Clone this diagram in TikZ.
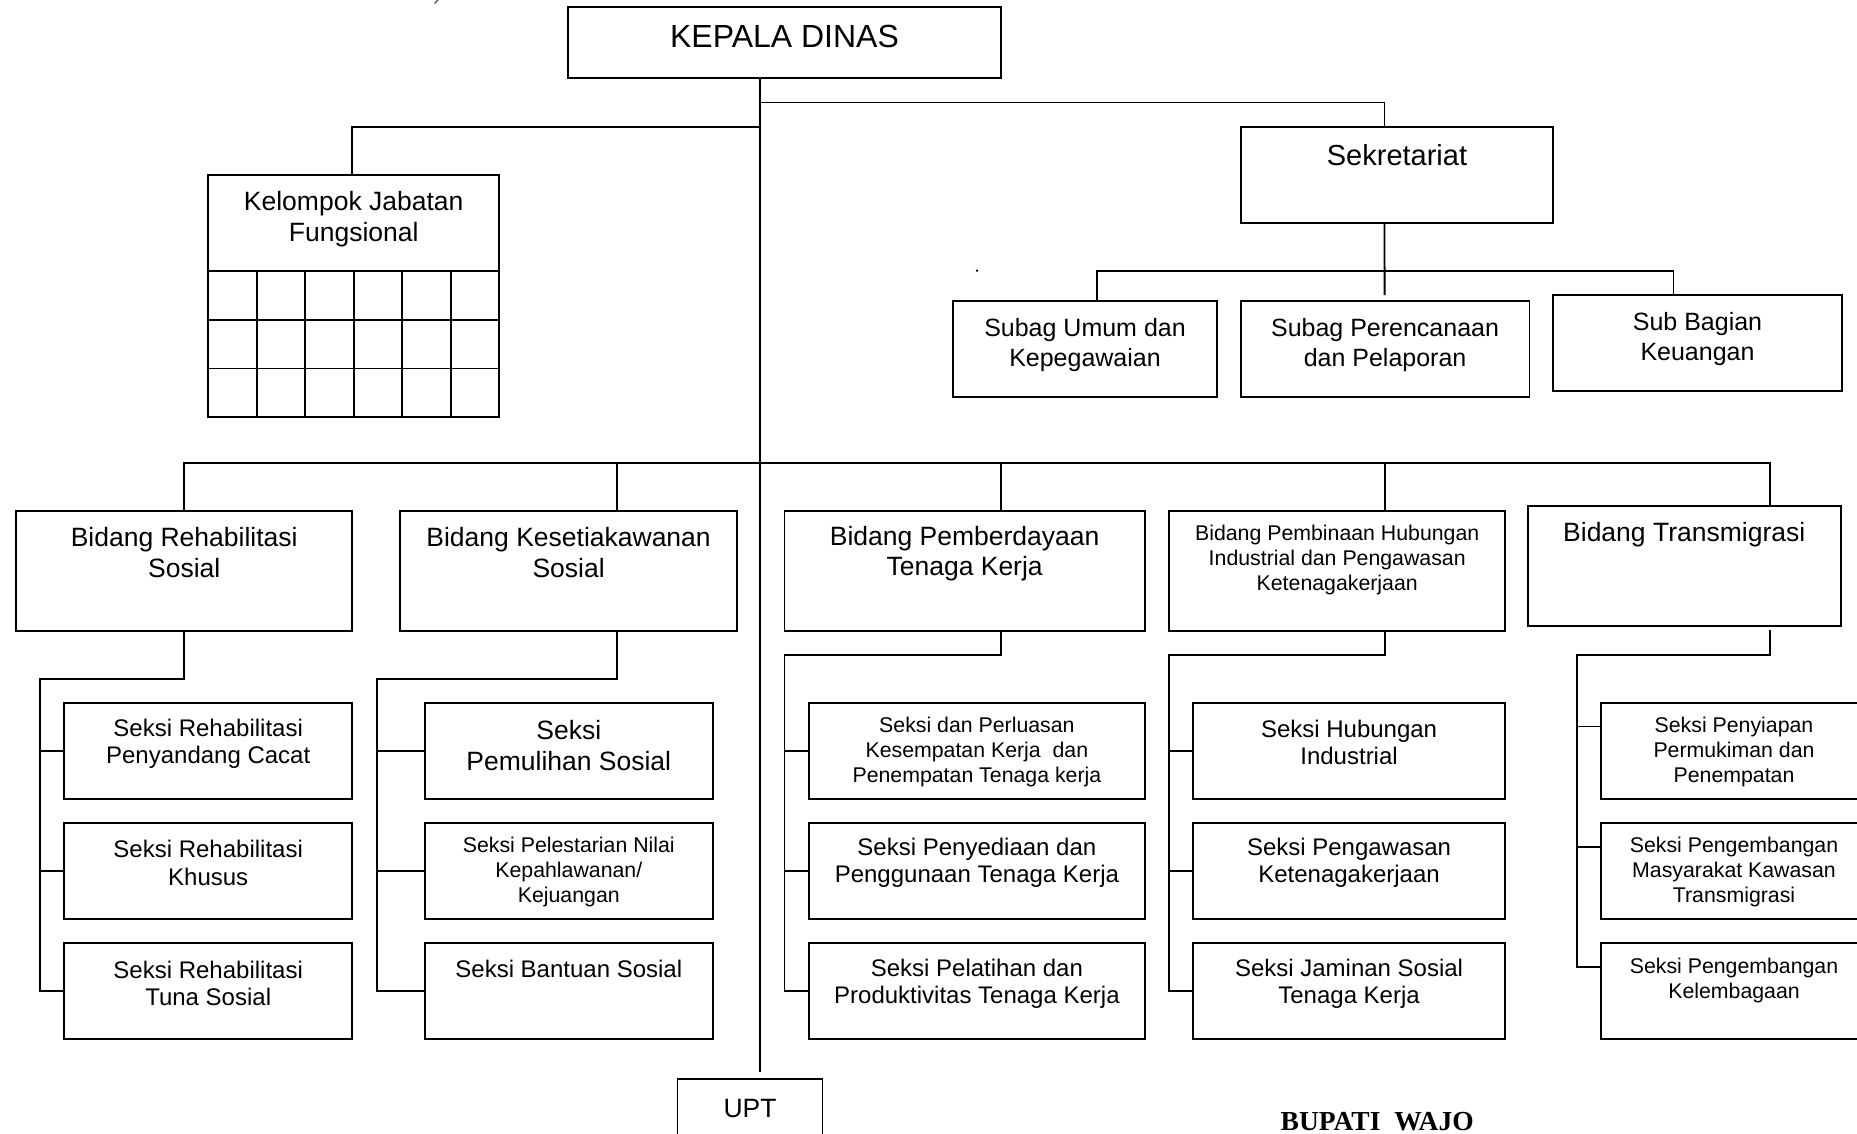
\documentclass[tikz,border=0pt]{standalone}
\usepackage{fontspec}
\setmainfont{Liberation Sans}
\newfontfamily\signfont{Liberation Serif}
\usetikzlibrary{calc}

\tikzset{
  box/.style={draw, line width=1.9pt, rectangle, inner sep=0pt, outer sep=0pt},
  link/.style={line width=1.9pt},
  head/.style={font=\fontsize{32}{38}\selectfont, inner sep=0pt},
  sekstyle/.style={font=\fontsize{29}{34}\selectfont, inner sep=0pt},
  bidang/.style={font=\fontsize{26.5}{30.3}\selectfont, align=center, inner sep=0pt},
  subag/.style={font=\fontsize{25}{30}\selectfont, align=center, inner sep=0pt},
  seksi/.style={font=\fontsize{24}{27.3}\selectfont, align=center, inner sep=0pt},
  kecil/.style={font=\fontsize{21.3}{24.8}\selectfont, align=center, inner sep=0pt},
}

% box from (x1,y1) to (x2,y2) with its caption centred horizontally at height ty
% #1 name, #2 x1, #3 y1, #4 x2, #5 y2, #6 caption style, #7 ty, #8 caption
\newcommand\orgunit[8]{%
  \node[box, minimum width={#4-#2}, minimum height={#5-#3}] (#1) at ({(#2+#4)/2},{(#3+#5)/2}) {};
  \node[#6] (#1-text) at ({(#2+#4)/2},#7) {#8};
}

\begin{document}
\begin{tikzpicture}[x=1pt,y=-1pt]
\useasboundingbox (0,0) rectangle (1857,1134);
\clip (0,0) rectangle (1857,1134);

% ---------- upper level ----------
\orgunit{kepala}{568}{7}{1001}{78}{head}{36}{KEPALA DINAS}
\orgunit{kjf}{208}{175}{499.4}{417}{bidang}{219}{Kelompok Jabatan\\Fungsional}
\orgunit{sek}{1241}{127}{1553}{223}{sekstyle}{155}{Sekretariat}
\orgunit{su}{953}{300.7}{1217}{396.7}{subag}{345}{Subag Umum dan\\Kepegawaian}
\orgunit{sp}{1240.6}{300.7}{1529.5}{396.7}{subag}{345}{Subag Perencanaan\\dan Pelaporan}
\orgunit{sk}{1553}{295}{1842}{390.7}{subag}{339}{Sub Bagian\\Keuangan}

% grid of the functional group
\foreach \yy in {271.3,320,368.5} \draw[link] (208,\yy) -- (499.4,\yy);
\foreach \xx in {256.7,305.4,353.8,402.3,451} \draw[link] (\xx,271.3) -- (\xx,417);

% ---------- bidang ----------
\orgunit{b1}{16}{511.3}{352.4}{630.7}{bidang}{552.5}{Bidang Rehabilitasi\\Sosial}
\orgunit{b2}{400.4}{511.3}{736.8}{630.7}{bidang}{552.5}{Bidang Kesetiakawanan\\Sosial}
\orgunit{b3}{784.5}{511.3}{1144.8}{630.7}{bidang}{553.5}{Bidang Pemberdayaan\\Tenaga Kerja}
\orgunit{b4}{1169.3}{511.3}{1505.1}{630.7}{kecil}{560}{Bidang Pembinaan Hubungan\\Industrial dan Pengawasan\\Ketenagakerjaan}
\orgunit{b5}{1527.7}{506}{1840.7}{626.4}{bidang}{535}{Bidang Transmigrasi}

% ---------- seksi ----------
\orgunit{s11}{64}{702.9}{352.4}{799}{seksi}{743.6}{Seksi Rehabilitasi\\Penyandang Cacat}
\orgunit{s12}{64}{822.7}{352.4}{918.9}{seksi}{863}{Seksi Rehabilitasi\\Khusus}
\orgunit{s13}{64}{943.3}{352.4}{1039.1}{seksi}{983.5}{Seksi Rehabilitasi\\Tuna Sosial}

\orgunit{s21}{424.6}{702.9}{713}{799}{bidang}{745.5}{Seksi\\Pemulihan Sosial}
\orgunit{s22}{424.6}{822.7}{713}{918.9}{kecil}{872}{Seksi Pelestarian Nilai\\Kepahlawanan/\\Kejuangan}
\orgunit{s23}{424.6}{943.3}{713}{1039.1}{seksi}{969}{Seksi Bantuan Sosial}

\orgunit{s31}{809}{702.9}{1144.8}{799}{kecil}{752}{Seksi dan Perluasan\\Kesempatan Kerja~ dan\\Penempatan Tenaga kerja}
\orgunit{s32}{809}{822.7}{1144.8}{918.9}{seksi}{863}{Seksi Penyediaan dan\\Penggunaan Tenaga Kerja}
\orgunit{s33}{809}{943.3}{1144.8}{1039.1}{seksi}{984}{Seksi Pelatihan dan\\Produktivitas Tenaga Kerja}

\orgunit{s41}{1193}{702.9}{1505.1}{799}{seksi}{742.6}{Seksi Hubungan\\Industrial}
\orgunit{s42}{1193}{822.7}{1505.1}{918.9}{seksi}{863}{Seksi Pengawasan\\Ketenagakerjaan}
\orgunit{s43}{1193}{943.3}{1505.1}{1039.1}{seksi}{984}{Seksi Jaminan Sosial\\Tenaga Kerja}

\orgunit{s51}{1601}{702.9}{1867}{799}{kecil}{752}{Seksi Penyiapan\\Permukiman dan\\Penempatan}
\orgunit{s52}{1601}{822.7}{1867}{918.9}{kecil}{872}{Seksi Pengembangan\\Masyarakat Kawasan\\Transmigrasi}
\orgunit{s53}{1601}{943.3}{1867}{1039.1}{kecil}{980.5}{Seksi Pengembangan\\Kelembagaan}

\orgunit{upt}{677.5}{1079}{822.5}{1170}{bidang}{1108.5}{UPT}

\node[font=\signfont\bfseries\fontsize{27.5}{32}\selectfont, anchor=base, inner sep=0pt] (ttd) at (1377.2,1130.7) {BUPATI\ \ WAJO};

% ---------- connectors ----------
\coordinate (tk) at (760,0);
\coordinate (j1) at (760,102.5);
\coordinate (j2) at (760,127);
\coordinate (j3) at (760,463);
\coordinate (trunkEnd) at (760,1072);
\draw[link] (kepala.south -| tk) -- (trunkEnd);

\coordinate (sekc) at ($(sek.north)+(-12.5,0)$);
\coordinate (kjfc) at ($(kjf.north)+(-1.7,0)$);
\draw[link] (j1) -| (sekc);
\draw[link] (j2) -| (kjfc);

\draw[link] (sekc |- sek.south) -- ($(sp.north)+(-0.5,-5.7)$);
\coordinate (j4) at (1384.5,271);
\draw[link] ($(su.north)+(11.7,0)$) |- (j4) -| ($(sk.north)+(-24,0)$);

\coordinate (b1c) at (b1.north);
\coordinate (b2c) at ($(b2.north)+(48,0)$);
\coordinate (b3c) at ($(b3.north)+(36.75,0)$);
\coordinate (b4c) at ($(b4.north)+(47.6,0)$);
\coordinate (b5c) at ($(b5.north)+(85.4,0)$);
\draw[link] (b1c) |- (b5c |- j3) -- (b5c);
\foreach \bc in {b2c,b3c,b4c} \draw[link] (\bc |- j3) -- (\bc);

\coordinate (e1) at (0,679.2);
\coordinate (e3) at (0,654.8);
\coordinate (r1) at (40.2,0);
\coordinate (r2) at (376.6,0);
\coordinate (r3) at (784.5,0);
\coordinate (r4) at (1169.3,0);
\coordinate (r5) at (1577.2,0);

\draw[link] (b1c |- b1.south) |- (r1 |- e1) -- (r1 |- s13.west) -- (s13.west);
\draw[link] (r1 |- s11.west) -- (s11.west);
\draw[link] (r1 |- s12.west) -- (s12.west);

\draw[link] (b2c |- b2.south) |- (r2 |- e1) -- (r2 |- s23.west) -- (s23.west);
\draw[link] (r2 |- s21.west) -- (s21.west);
\draw[link] (r2 |- s22.west) -- (s22.west);

\draw[link] (b3c |- b3.south) |- (r3 |- e3) -- (r3 |- s33.west) -- (s33.west);
\draw[link] (r3 |- s31.west) -- (s31.west);
\draw[link] (r3 |- s32.west) -- (s32.west);

\draw[link] (b4c |- b4.south) |- (r4 |- e3) -- (r4 |- s43.west) -- (s43.west);
\draw[link] (r4 |- s41.west) -- (s41.west);
\draw[link] (r4 |- s42.west) -- (s42.west);

\path (b5c |- b5.south) ++(0,4) coordinate (b5b);
\coordinate (t51) at ($(s51.west)+(0,-24.5)$);
\coordinate (t52) at ($(s52.west)+(0,-24)$);
\coordinate (t53) at ($(s53.west)+(0,-23.8)$);
\draw[link] (b5b) |- (r5 |- e3) -- (r5 |- t53) -- (t53);
\draw[link] (r5 |- t51) -- (t51);
\draw[link] (r5 |- t52) -- (t52);

% small marks on the sheet
\fill (977,270.7) circle (1.3);
\draw[line width=1.2pt, black!70] (438,0) -- (434.5,3.5);
\end{tikzpicture}
\end{document}
